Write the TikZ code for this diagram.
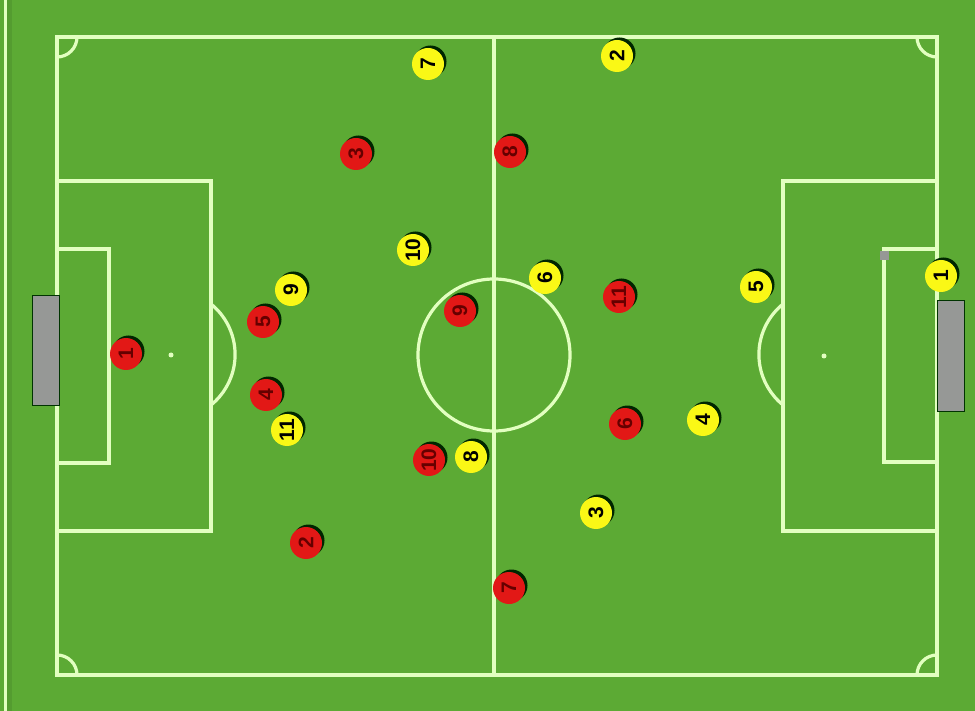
\documentclass[tikz,border=0pt]{standalone}
\usepackage{fontspec}
\usepackage{tikz}
\usetikzlibrary{positioning}

\newfontfamily\shirtfont{Liberation Sans}

\definecolor{grass}{RGB}{92,170,52}
\definecolor{grassdark}{RGB}{84,156,48}
\definecolor{chalk}{RGB}{226,255,192}
\definecolor{redshirt}{RGB}{226,24,22}
\definecolor{yellowshirt}{RGB}{250,248,22}
\definecolor{goalgray}{RGB}{150,152,150}

\tikzset{
    pitch line/.style={line width=3.2pt, draw=chalk},
    player/.style={
        circle,
        minimum size=32pt,
        inner sep=0pt,
        rotate=90,
        font=\shirtfont\bfseries\fontsize{21}{21}\selectfont
    },
    red team/.style={player, fill=redshirt, text=black!60!red},
    yellow team/.style={player, fill=yellowshirt, text=black},
    player shadow/.style={fill=black!85!green}
}

\begin{document}
\begin{tikzpicture}[x=1pt, y=-1pt]

% ---------------- FONS ----------------

\useasboundingbox (0,0) rectangle (975,711);
\fill[grass] (0,0) rectangle (975,711);
\fill[grassdark] (7,0) rectangle (12,711);
\fill[chalk] (4,0) rectangle (7,711);

% ---------------- CAMP ----------------

% Linies de banda i de fons
\draw[pitch line] (57,37) rectangle (937,675);

% Linia del mig
\draw[pitch line] (494,37) -- (494,675);

% Cercle central
\draw[pitch line] (494,355) circle (76);

% Corners
\draw[pitch line] (57,57) arc[start angle=90, end angle=0, radius=20];
\draw[pitch line] (917,37) arc[start angle=180, end angle=90, radius=20];
\draw[pitch line] (57,655) arc[start angle=-90, end angle=0, radius=20];
\draw[pitch line] (917,675) arc[start angle=180, end angle=270, radius=20];

% Area esquerra
\draw[pitch line] (57,181) -- (211,181) -- (211,531) -- (57,531);
\draw[pitch line] (57,249) -- (109,249) -- (109,463) -- (57,463);
\draw[pitch line] (211,304) arc[start angle=-51, end angle=51, radius=65];
\fill[chalk] (171,355) circle (2.5);

% Area dreta
\draw[pitch line] (937,181) -- (783,181) -- (783,531) -- (937,531);
\draw[pitch line] (937,249) -- (884,249) -- (884,462) -- (937,462);
\draw[pitch line] (783,304) arc[start angle=231, end angle=129, radius=65];
\fill[chalk] (824,356) circle (2.5);
\fill[goalgray] (880,251) rectangle (889,260);

% Porteries
\draw[thick, fill=goalgray, draw=black!80!green] (32,295) rectangle (59,405);
\draw[thick, fill=goalgray, draw=black!80!green] (937,300) rectangle (964,411);

% ---------------- JUGADORS ----------------

% Equip vermell
\foreach \nm/\px/\py/\num in {
    r1/126/354/1, r2/306/543/2, r3/356/154/3, r4/266/395/4,
    r5/263/322/5, r6/625/424/6, r7/509/588/7, r8/510/152/8,
    r9/460/311/9, r10/429/460/10, r11/619/297/11}
{
    \fill[player shadow] (\px+2.5,\py-2.5) circle (16);
    \node[red team] (\nm) at (\px,\py) {\num};
}

% Equip groc
\foreach \nm/\px/\py/\num in {
    y1/941/276/1, y2/617/56/2, y3/596/513/3, y4/703/420/4,
    y5/756/287/5, y6/545/278/6, y7/428/64/7, y8/471/457/8,
    y9/291/290/9, y10/413/250/10, y11/287/430/11}
{
    \fill[player shadow] (\px+2.5,\py-2.5) circle (16);
    \node[yellow team] (\nm) at (\px,\py) {\num};
}

\end{tikzpicture}
\end{document}
